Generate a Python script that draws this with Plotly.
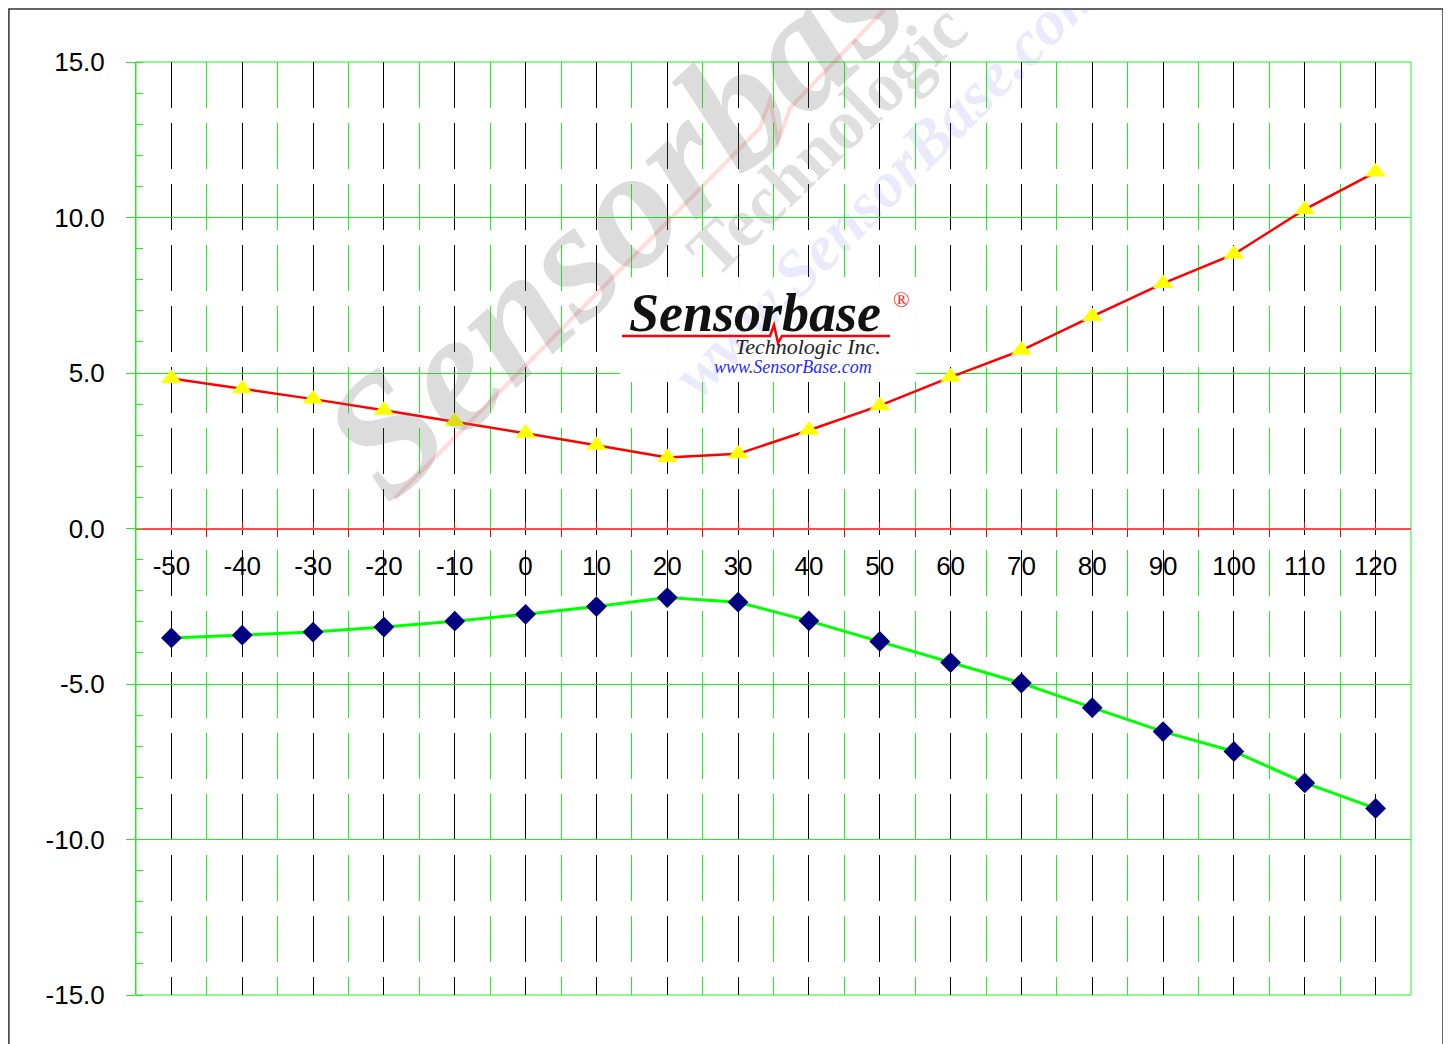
import plotly.graph_objects as go

# ---------------- data ----------------
temps = [-50, -40, -30, -20, -10, 0, 10, 20, 30, 40, 50, 60, 70, 80, 90, 100, 110, 120]
upper = [4.82, 4.49, 4.16, 3.80, 3.44, 3.06, 2.68, 2.28, 2.40, 3.16, 3.95, 4.87,
         5.73, 6.82, 7.88, 8.82, 10.26, 11.46]
lower = [-3.52, -3.43, -3.33, -3.17, -2.98, -2.76, -2.51, -2.22, -2.37, -2.97, -3.63,
         -4.31, -4.97, -5.76, -6.53, -7.17, -8.18, -9.00]
x_labels = [str(t) for t in temps]
y_ticks = [-15, -10, -5, 0, 5, 10, 15]
y_labels = ["-15.0", "-10.0", "-5.0", "0.0", "5.0", "10.0", "15.0"]

# ---------------- geometry helpers (screen pixel -> paper) ----------------
OFF = 8                      # page body margin
W, H = 1451 - OFF, 1044 - OFF
L, T = 136 - OFF, 62 - OFF
PW, PH = 1275, 933
R, B = W - L - PW, H - T - PH


def px(x):
    return (x - OFF - L) / PW


def py(y):
    return (T + PH - (y - OFF)) / PH


GREEN = "#22ee22"
FONT = "Liberation Sans"
SERIF = "Liberation Serif"

fig = go.Figure()
fig.add_trace(go.Scatter(
    x=temps, y=upper, mode="lines+markers",
    line=dict(color="#ff0000", width=2.5),
    marker=dict(symbol="triangle-up", size=18, color="#ffff00", line=dict(width=0)),
    showlegend=False, cliponaxis=False))
fig.add_trace(go.Scatter(
    x=temps, y=lower, mode="lines+markers",
    line=dict(color="#00ff00", width=3),
    marker=dict(symbol="diamond", size=16, color="#000080", line=dict(width=0)),
    showlegend=False, cliponaxis=False))

shapes = []
annotations = []

# outer frame (as close to the page edge as the figure allows)
shapes.append(dict(type="rect", xref="paper", yref="paper",
                   x0=px(OFF + 0.9), x1=px(1443), y0=py(1070), y1=py(OFF + 0.9),
                   line=dict(color="#333333", width=1.5), fillcolor="rgba(0,0,0,0)",
                   layer="above"))
# plot border (green)
shapes.append(dict(type="rect", xref="paper", yref="paper", x0=0, x1=1, y0=0, y1=1,
                   line=dict(color=GREEN, width=1), fillcolor="rgba(0,0,0,0)", layer="below"))

# ---- watermark ----
wm_path = "M {} {} L {} {} L {} {} L {} {} L {} {} L {} {}".format(
    px(395), py(498), px(760), py(128), px(770), py(100),
    px(778), py(142), px(790), py(108), px(905), py(-12))
shapes.append(dict(type="path", xref="paper", yref="paper", path=wm_path,
                   line=dict(color="rgba(255,90,90,0.22)", width=4), layer="above"))
annotations.append(dict(text="<b><i>Sensorbase</i></b>", xref="paper", yref="paper",
                        x=px(640), y=py(195), xanchor="center", yanchor="middle",
                        textangle=-43, showarrow=False,
                        font=dict(family=SERIF, size=170, color="rgba(110,110,110,0.24)")))
annotations.append(dict(text="<b>Technologic</b>", xref="paper", yref="paper",
                        x=px(826), y=py(140), xanchor="center", yanchor="middle",
                        textangle=-44, showarrow=False,
                        font=dict(family=SERIF, size=70, color="rgba(110,110,110,0.22)")))
annotations.append(dict(text="<b><i>www.SensorBase.com</i></b>", xref="paper", yref="paper",
                        x=px(887), y=py(181), xanchor="center", yanchor="middle",
                        textangle=-45, showarrow=False,
                        font=dict(family=SERIF, size=64, color="rgba(90,90,230,0.13)")))

# ---- logo box ----
shapes.append(dict(type="rect", xref="paper", yref="paper",
                   x0=px(620), x1=px(916), y0=py(382), y1=py(277),
                   line=dict(width=0), fillcolor="rgba(255,255,255,0.97)", layer="above"))
logo_line = "M {} {} L {} {} L {} {} L {} {} L {} {} L {} {}".format(
    px(622), py(336), px(770), py(336), px(774), py(325),
    px(778), py(343), px(782), py(336), px(890), py(336))
shapes.append(dict(type="path", xref="paper", yref="paper", path=logo_line,
                   line=dict(color="#ff0000", width=2.5), layer="above"))
annotations.append(dict(text="<b><i>Sensorbase</i></b>", xref="paper", yref="paper",
                        x=px(755), y=py(313), xanchor="center", yanchor="middle",
                        showarrow=False, font=dict(family=SERIF, size=54, color="#111111")))
annotations.append(dict(text="®", xref="paper", yref="paper",
                        x=px(901), y=py(299), xanchor="center", yanchor="middle",
                        showarrow=False, font=dict(family=SERIF, size=22, color="#ff2222")))
annotations.append(dict(text="<i>Technologic Inc.</i>", xref="paper", yref="paper",
                        x=px(808), y=py(347), xanchor="center", yanchor="middle",
                        showarrow=False, font=dict(family=SERIF, size=22, color="#222222")))
annotations.append(dict(text="<i>www.SensorBase.com</i>", xref="paper", yref="paper",
                        x=px(793), y=py(367), xanchor="center", yanchor="middle",
                        showarrow=False, font=dict(family=SERIF, size=18, color="#2a2aff")))

fig.update_layout(
    width=W, height=H, autosize=False,
    margin=dict(l=L, r=R, t=T, b=B, pad=0),
    paper_bgcolor="white", plot_bgcolor="white",
    shapes=shapes, annotations=annotations,
    xaxis=dict(
        range=[-55, 125], tickmode="array", tickvals=temps, ticktext=x_labels,
        showgrid=True, gridcolor="#000000", gridwidth=1, griddash="46px,15px",
        showline=True, linecolor="#ff4a4a", linewidth=1.5,
        ticks="inside", ticklen=6, tickcolor="#ff0000", tickwidth=1,
        tickfont=dict(family=FONT, size=26, color="#000000"),
        ticklabelstandoff=15,
        anchor="free", position=0.5, zeroline=False,
        minor=dict(tickmode="linear", tick0=-55, dtick=10, ticks="outside",
                   ticklen=8, tickcolor="#ff0000", tickwidth=1,
                   showgrid=True, gridcolor=GREEN, gridwidth=1),
    ),
    yaxis=dict(
        range=[-15, 15], tickmode="array", tickvals=y_ticks, ticktext=y_labels,
        showgrid=True, gridcolor=GREEN, gridwidth=1, zeroline=False,
        showline=True, linecolor=GREEN, linewidth=1,
        ticks="outside", ticklen=9, tickcolor=GREEN, tickwidth=1,
        tickfont=dict(family=FONT, size=26, color="#000000"),
        ticklabelstandoff=16,
        minor=dict(tickmode="linear", tick0=0, dtick=1, ticks="inside",
                   ticklen=7, tickcolor=GREEN, tickwidth=1, showgrid=False),
    ),
)

fig.write_html("out.html")
